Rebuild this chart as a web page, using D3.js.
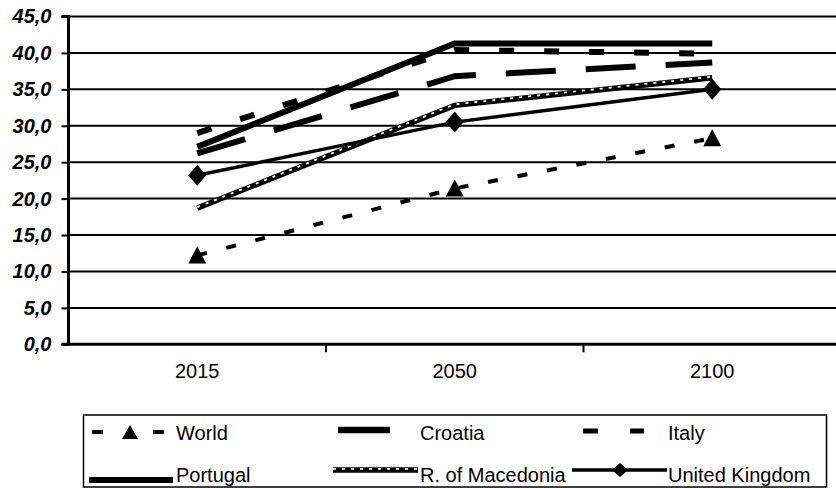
<!DOCTYPE html>
<html><head><meta charset="utf-8">
<script src="https://cdn.jsdelivr.net/npm/d3@7"></script>
<style>
html,body{margin:0;padding:0;background:#fff;}
svg{display:block;font-family:"Liberation Sans",Arial,sans-serif;}
</style></head>
<body><svg id="c" width="836" height="488"></svg>
<script>
const categories = ["2015", "2050", "2100"];
const yTicks = [0, 5, 10, 15, 20, 25, 30, 35, 40, 45];
const seriesNames = ["World", "Croatia", "Italy", "Portugal", "R. of Macedonia", "United Kingdom"];
const world = [12.2, 21.4, 28.3];
const croatia = [26.2, 36.8, 38.7];
const italy = [29.0, 40.4, 39.9];
const portugal = [27.1, 41.3, 41.3];
const macedonia = [18.7, 32.8, 36.6];
const unitedKingdom = [23.2, 30.5, 35.0];

const seriesValues = [world, croatia, italy, portugal, macedonia, unitedKingdom];
const styles = [
  {w:4, dash:"10 20", marker:"tri"},
  {w:6, dash:"50 30"},
  {w:6, dash:"15 30"},
  {w:6, dash:null},
  {w:5.5, dash:null, dotted:true},
  {w:3.5, dash:null, marker:"dia"}
];

const svg = d3.select("#c");
const left = 68.5, bandW = 257.5;
const x = d3.scaleBand().domain(categories).range([left, left + 3*bandW]);
const y = d3.scaleLinear().domain([0, 45]).range([344.3, 16.5]);
const cx = c => x(c) + x.bandwidth()/2;

// gridlines
svg.append("g").selectAll("line").data(yTicks.filter(t => t > 0)).join("line")
  .attr("x1", left).attr("x2", 836).attr("y1", d => y(d)).attr("y2", d => y(d))
  .attr("stroke", "#000").attr("stroke-width", 2);

// y axis
const yAxis = d3.axisLeft(y).tickValues(yTicks).tickSize(7).tickPadding(5)
  .tickFormat(d => d3.format(".1f")(d).replace(".", ","));
const gy = svg.append("g").attr("transform", `translate(${left},0)`).call(yAxis);
gy.select(".domain").attr("stroke-width", 3).attr("d", `M-7,${y(0)}H0V${y(45)}H-7`);
gy.selectAll(".tick line").attr("stroke-width", 2);
gy.selectAll("text").attr("font-size", 20).attr("font-weight", "bold").attr("font-style", "italic")
  .attr("fill", "#000").attr("font-family", "'Liberation Sans',Arial,sans-serif").attr("x", -17);

// x axis
const xAxis = d3.axisBottom(x).tickSize(0).tickPadding(12);
const gx = svg.append("g").attr("transform", `translate(0,${y(0)})`).call(xAxis);
gx.select(".domain").attr("stroke-width", 3).attr("d", `M${left},0H836`);
gx.selectAll("text").attr("font-size", 20).attr("fill", "#000")
  .attr("font-family", "'Liberation Sans',Arial,sans-serif").attr("dy", "1.1em");
// boundary ticks
svg.append("g").selectAll("line").data(categories.slice(1)).join("line")
  .attr("x1", d => x(d)).attr("x2", d => x(d)).attr("y1", y(0)).attr("y2", y(0) + 8)
  .attr("stroke", "#000").attr("stroke-width", 2);

const line = d3.line().x((d, i) => cx(categories[i])).y(d => y(d));
const triPath = "M0,-9L9,8L-9,8Z";
const diaPath = "M0,-10.5L9,0L0,10.5L-9,0Z";

seriesValues.forEach((vals, si) => {
  const st = styles[si];
  const g = svg.append("g");
  g.append("path").attr("d", line(vals)).attr("fill", "none").attr("stroke", "#000")
    .attr("stroke-width", st.w).attr("stroke-dasharray", st.dash).attr("stroke-linejoin", "miter");
  if (st.dotted) {
    g.append("path").attr("d", line(vals)).attr("fill", "none").attr("stroke", "#fff")
      .attr("transform", "translate(0,-1)")
      .attr("stroke-width", 1.8).attr("stroke-dasharray", "3 6");
  }
  if (st.marker) {
    g.selectAll("path.m").data(vals).join("path").attr("class", "m")
      .attr("d", st.marker === "tri" ? triPath : diaPath)
      .attr("transform", (d, i) => `translate(${cx(categories[i])},${y(d)})`)
      .attr("fill", "#000");
  }
});

// legend
const lg = svg.append("g");
lg.append("rect").attr("x", 83.5).attr("y", 415).attr("width", 743).attr("height", 72)
  .attr("fill", "#fff").attr("stroke", "#000").attr("stroke-width", 1.5);
const rowsY = [431, 471];
const textY = [440, 482];
const textX = [176, 420, 668];
const legendSpecs = [
  {col:0, row:0, x1:92, x2:165, dy:1, w:4, dash:"11 50", marker:"tri", mx:130},
  {col:1, row:0, x1:338, x2:390, dy:-1, w:6.5, dash:null},
  {col:2, row:0, x1:583, x2:644, dy:0, w:5, dash:"15 32"},
  {col:0, row:1, x1:89, x2:173, dy:9, w:6, dash:null},
  {col:1, row:1, x1:333, x2:418, dy:-1, w:5.5, dash:null, dotted:true},
  {col:2, row:1, x1:572, x2:667, dy:-1, w:3.5, dash:null, marker:"dia", mx:620}
];
legendSpecs.forEach((s, i) => {
  const ly = rowsY[s.row] + s.dy;
  lg.append("line").attr("x1", s.x1).attr("x2", s.x2).attr("y1", ly).attr("y2", ly)
    .attr("stroke", "#000").attr("stroke-width", s.w).attr("stroke-dasharray", s.dash);
  if (s.dotted) {
    lg.append("line").attr("x1", s.x1).attr("x2", s.x2).attr("y1", ly - 1.2).attr("y2", ly - 1.2)
      .attr("stroke", "#fff").attr("stroke-width", 1.8).attr("stroke-dasharray", "3 6");
  }
  if (s.marker) {
    lg.append("path").attr("d", s.marker === "tri" ? "M0,-7L8,7L-8,7Z" : "M0,-7L8,0L0,7L-8,0Z")
      .attr("transform", `translate(${s.mx},${ly})`).attr("fill", "#000");
  }
  lg.append("text").attr("x", textX[s.col]).attr("y", textY[s.row])
    .attr("font-size", 20).attr("fill", "#000").text(seriesNames[i]);
});
</script></body></html>
